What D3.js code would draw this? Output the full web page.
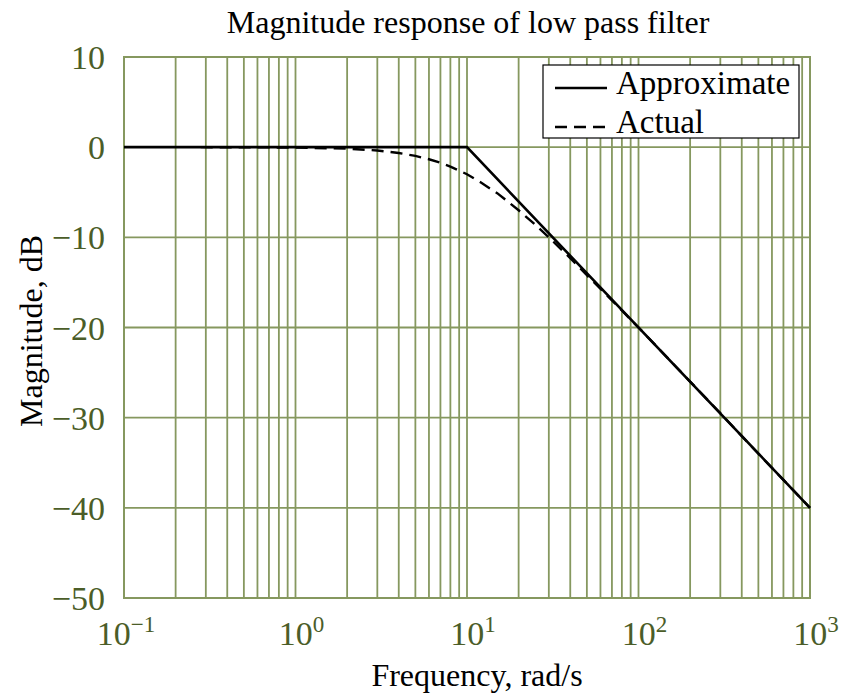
<!DOCTYPE html>
<html>
<head>
<meta charset="utf-8">
<script src="https://cdn.jsdelivr.net/npm/d3@7"></script>
<style>
  body { margin: 0; background: #fff; }
  svg text { font-family: "Liberation Serif", "DejaVu Serif", serif; }
</style>
</head>
<body>
<svg id="chart" width="841" height="694"></svg>
<script>
const approxFreq = [0.1, 10, 1000];
const approxMag = [0, 0, -40];
const actualFreq = [0.28, 0.5, 1, 2, 3, 4, 5, 6, 7, 8, 10, 12, 15, 20, 25, 30, 40, 50, 70, 100, 150, 200, 300, 500, 700, 1000];
const actualMag = [0, -0.01, -0.04, -0.17, -0.37, -0.65, -0.97, -1.34, -1.73, -2.15, -3.0, -3.9, -5.1, -7.0, -8.6, -10.0, -12.3, -14.2, -17.0, -20.0, -23.5, -26.0, -29.5, -34.0, -36.9, -40.0];
const yTicks = [10, 0, -10, -20, -30, -40, -50];
const xDecades = [-1, 0, 1, 2, 3];

const gridColor = "#86985f";
const labelColor = "#4b5d28";
const dash = "12,7";

const svg = d3.select("svg#chart");
const margin = { left: 124, right: 31, top: 57, bottom: 96 };
const W = 841, H = 694;

const x = d3.scaleLog().domain([0.1, 1000]).range([margin.left, W - margin.right]);
const y = d3.scaleLinear().domain([-50, 10]).range([H - margin.bottom, margin.top]);

// vertical grid: every 1..9 times each decade
const minor = [];
for (let e = -1; e < 3; e++) {
  for (let k = 1; k < 10; k++) minor.push(k * Math.pow(10, e));
}
minor.push(1000);

const grid = svg.append("g");
grid.selectAll("line.v")
  .data(minor)
  .enter()
  .append("line")
  .attr("class", "v")
  .attr("x1", (d) => x(d))
  .attr("x2", (d) => x(d))
  .attr("y1", y(10))
  .attr("y2", y(-50))
  .attr("stroke", gridColor)
  .attr("stroke-width", 1.8);

grid.selectAll("line.h")
  .data(yTicks)
  .enter()
  .append("line")
  .attr("class", "h")
  .attr("x1", x(0.1))
  .attr("x2", x(1000))
  .attr("y1", (d) => y(d))
  .attr("y2", (d) => y(d))
  .attr("stroke", gridColor)
  .attr("stroke-width", 1.8);

grid.append("rect")
  .attr("x", x(0.1))
  .attr("y", y(10))
  .attr("width", x(1000) - x(0.1))
  .attr("height", y(-50) - y(10))
  .attr("fill", "none")
  .attr("stroke", gridColor)
  .attr("stroke-width", 2);

// tick labels
svg.selectAll("text.ytick")
  .data(yTicks)
  .enter()
  .append("text")
  .attr("class", "ytick")
  .attr("x", 105)
  .attr("y", (d) => y(d) + 12)
  .attr("text-anchor", "end")
  .attr("font-size", 34)
  .attr("fill", labelColor)
  .text((d) => (d < 0 ? "\u2212" + Math.abs(d) : d));

const xt = svg.selectAll("text.xtick")
  .data(xDecades)
  .enter()
  .append("text")
  .attr("class", "xtick")
  .attr("x", (d) => x(Math.pow(10, d)) + (d < 0 ? 2 : 6))
  .attr("y", 645)
  .attr("text-anchor", "middle")
  .attr("font-size", 34)
  .attr("fill", labelColor);
xt.append("tspan").text("10");
xt.append("tspan")
  .attr("dy", -13)
  .attr("font-size", 23)
  .text((d) => (d < 0 ? "\u2212" + Math.abs(d) : d));

// lines
const line = d3.line()
  .x((d) => x(d[0]))
  .y((d) => y(d[1]));

svg.append("path")
  .attr("d", line(actualFreq.map((f, i) => [f, actualMag[i]])))
  .attr("fill", "none")
  .attr("stroke", "#000")
  .attr("stroke-width", 2.4)
  .attr("stroke-dasharray", dash);

svg.append("path")
  .attr("d", line(approxFreq.map((f, i) => [f, approxMag[i]])))
  .attr("fill", "none")
  .attr("stroke", "#000")
  .attr("stroke-width", 2.6);

// legend
const lg = svg.append("g").attr("transform", "translate(543,65)");
lg.append("rect")
  .attr("width", 256)
  .attr("height", 73)
  .attr("fill", "#fff")
  .attr("stroke", "#000")
  .attr("stroke-width", 1.2);
const items = [["Approximate", null], ["Actual", dash]];
items.forEach((it, i) => {
  const yy = 23 + i * 39;
  lg.append("line")
    .attr("x1", 12).attr("x2", 64)
    .attr("y1", yy).attr("y2", yy)
    .attr("stroke", "#000")
    .attr("stroke-width", 2.4)
    .attr("stroke-dasharray", it[1]);
  lg.append("text")
    .attr("x", 73)
    .attr("y", yy + 6)
    .attr("font-size", 33)
    .attr("fill", "#000")
    .text(it[0]);
});

// title and axis labels
svg.append("text")
  .attr("x", 468)
  .attr("y", 33)
  .attr("text-anchor", "middle")
  .attr("font-size", 32)
  .text("Magnitude response of low pass filter");

svg.append("text")
  .attr("x", 477)
  .attr("y", 686)
  .attr("text-anchor", "middle")
  .attr("font-size", 32)
  .text("Frequency, rad/s");

svg.append("text")
  .attr("transform", "translate(42,331) rotate(-90)")
  .attr("text-anchor", "middle")
  .attr("font-size", 32)
  .text("Magnitude, dB");
</script>
</body>
</html>
